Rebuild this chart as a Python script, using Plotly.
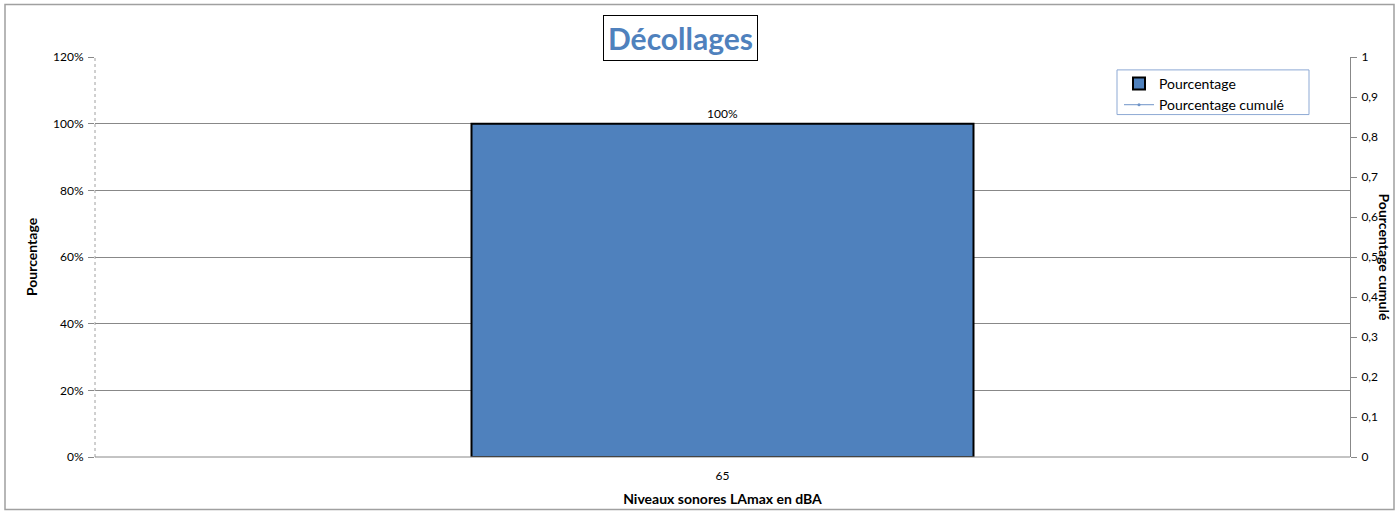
import plotly.graph_objects as go

categories = ["65"]
pourcentage = [1.0]
pourcentage_cumule = [1.0]
bar_labels = ["100%"]

FONT = "Lato, Carlito, Calibri, sans-serif"
BLUE = "#4F81BD"

fig = go.Figure()
fig.add_trace(go.Bar(
    x=categories, y=pourcentage, name="Pourcentage",
    marker=dict(color=BLUE, line=dict(color="black", width=2)),
    text=bar_labels, textposition="outside",
    textfont=dict(size=12, color="black", family=FONT),
    cliponaxis=False,
))
fig.add_trace(go.Scatter(
    x=categories, y=pourcentage_cumule, name="Pourcentage cumulé",
    yaxis="y2", mode="lines+markers",
    line=dict(color="#6F94C8", width=1),
    marker=dict(size=3, color="#6F94C8"),
))

L, R, T, B = 95, 1350, 57, 460
W, H = R - L, B - T

def px(x):
    return (x - L) / W

def py(y):
    return (B - y) / H

fig.update_layout(
    width=1399, height=517,
    margin=dict(l=L, r=1399 - R, t=T, b=517 - B),
    paper_bgcolor="white", plot_bgcolor="white",
    font=dict(family=FONT, size=12, color="black"),
    separators=", ",
    bargap=0.6,
    showlegend=True,
    legend=dict(
        x=px(1119), y=py(68), xanchor="left", yanchor="top",
        borderwidth=0, bgcolor="rgba(0,0,0,0)",
        font=dict(size=14, family=FONT), tracegroupgap=0,
        itemwidth=30,
    ),
    xaxis=dict(
        type="category", showgrid=False, showline=False, ticks="",
        tickfont=dict(size=12), ticklabelstandoff=10,
        title=dict(text="<b>Niveaux sonores LAmax en dBA</b>", font=dict(size=14), standoff=12),
    ),
    yaxis=dict(
        range=[0, 1.2], dtick=0.2, tickformat=".0%",
        showgrid=True, gridcolor="#888888", gridwidth=1,
        zeroline=False, showline=False,
        ticks="outside", ticklen=6, tickcolor="#888888",
        tickfont=dict(size=12), ticklabelstandoff=2,
        title=dict(text="<b>Pourcentage</b>", font=dict(size=14), standoff=12),
    ),
    yaxis2=dict(
        overlaying="y", side="right", range=[0, 1], dtick=0.1,
        showgrid=False, zeroline=False,
        showline=True, linecolor="#888888", linewidth=1,
        ticks="outside", ticklen=6, tickcolor="#888888",
        tickfont=dict(size=12), ticklabelstandoff=2,
    ),
    shapes=[
        dict(type="rect", xref="paper", yref="paper",
             x0=px(5), x1=px(1394), y0=py(513), y1=py(4),
             line=dict(color="#A0A0A0", width=1.5), layer="below"),
        dict(type="rect", xref="paper", yref="paper",
             x0=px(1117), x1=px(1309), y0=py(115), y1=py(70),
             line=dict(color="#8DA9D4", width=1), fillcolor="white", layer="below"),
        dict(type="line", xref="paper", yref="paper",
             x0=0, x1=0, y0=0, y1=1,
             line=dict(color="#A0A0A0", width=1, dash="dot")),
        dict(type="line", xref="paper", yref="paper",
             x0=0, x1=1, y0=0, y1=0,
             line=dict(color="#888888", width=1)),
    ],
    annotations=[
        dict(text="<b>Décollages</b>", xref="paper", yref="paper",
             x=px(680), y=py(37.5), xanchor="center", yanchor="middle",
             showarrow=False, font=dict(size=30, color=BLUE, family=FONT),
             bordercolor="black", borderwidth=1, bgcolor="white", borderpad=4),
        dict(text="<b>Pourcentage cumulé</b>", xref="paper", yref="paper",
             x=px(1384), y=py(258), xanchor="center", yanchor="middle",
             textangle=90, showarrow=False, font=dict(size=14, family=FONT)),
    ],
)

fig.write_html("out.html", config={"displayModeBar": False},
               post_script="document.body.style.margin='0';")
